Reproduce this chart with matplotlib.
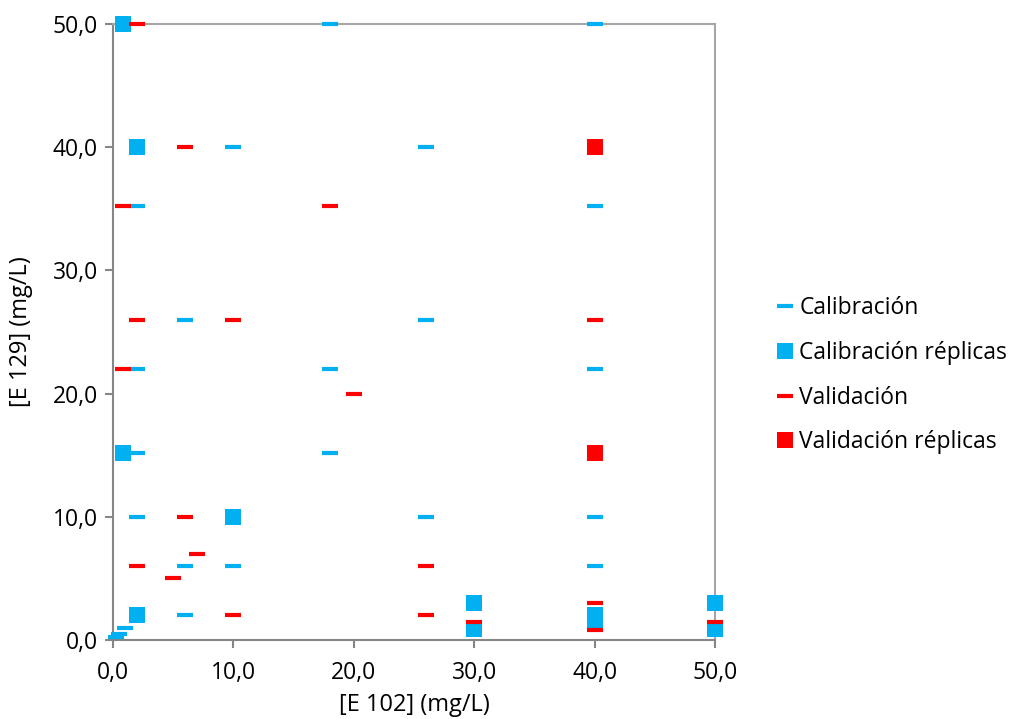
import matplotlib
matplotlib.use("Agg")
import matplotlib.pyplot as plt
from matplotlib.ticker import FuncFormatter

plt.rcParams['font.family'] = ['Open Sans', 'DejaVu Sans']

calib_x = [18, 40, 10, 26, 2, 40, 6, 26, 2, 18, 40, 2, 18, 2, 26, 40, 6, 10, 40, 6, 1, 0.5, 0.25]
calib_y = [50, 50, 40, 40, 35.2, 35.2, 26, 26, 22, 22, 22, 15.2, 15.2, 10, 10, 10, 6, 6, 6, 2, 1, 0.5, 0.25]

calib_rep_x = [0.8, 2, 0.8, 10, 2, 30, 30, 40, 40, 50, 50]
calib_rep_y = [50, 40, 15.2, 10, 2, 3, 0.9, 2, 1.5, 3, 0.9]

valid_x = [2, 6, 0.8, 18, 2, 10, 40, 0.8, 20, 6, 7, 2, 26, 5, 10, 26, 30, 40, 40, 50]
valid_y = [50, 40, 35.2, 35.2, 26, 26, 26, 22, 20, 10, 7, 6, 6, 5, 2, 2, 1.5, 3, 0.8, 1.5]

valid_rep_x = [40, 40]
valid_rep_y = [40, 15.2]

labels = ["Calibración", "Calibración réplicas", "Validación", "Validación réplicas"]
x_ticks = [0, 10, 20, 30, 40, 50]
y_ticks = [0, 10, 20, 30, 40, 50]

BLUE = "#00B0F0"
RED = "#FF0000"
GRAY = "#868686"

fig = plt.figure(figsize=(10.24, 7.19), dpi=100)
ax = fig.add_axes([113/1024, 1-640/719, (715-113)/1024, (640-24)/719])

ms_sq = 11.0
ms_dash = 11.3
mew_dash = 3.0

ax.plot(calib_x, calib_y, linestyle='none', marker='_', markersize=ms_dash,
        markeredgewidth=mew_dash, color=BLUE, label=labels[0], clip_on=False, zorder=3)
ax.plot(calib_rep_x, calib_rep_y, linestyle='none', marker='s', markersize=ms_sq,
        markeredgewidth=0, color=BLUE, label=labels[1], clip_on=False, zorder=4)
ax.plot(valid_x, valid_y, linestyle='none', marker='_', markersize=ms_dash,
        markeredgewidth=mew_dash, color=RED, label=labels[2], clip_on=False, zorder=5)
ax.plot(valid_rep_x, valid_rep_y, linestyle='none', marker='s', markersize=ms_sq,
        markeredgewidth=0, color=RED, label=labels[3], clip_on=False, zorder=6)

ax.set_xlim(0, 50)
ax.set_ylim(0, 50)
ax.set_xticks(x_ticks)
ax.set_yticks(y_ticks)
fmt = FuncFormatter(lambda v, p: f"{v:.1f}".replace('.', ','))
ax.xaxis.set_major_formatter(fmt)
ax.yaxis.set_major_formatter(fmt)

for s in ax.spines.values():
    s.set_color(GRAY)
    s.set_linewidth(1.5)
    s.set_zorder(2)
ax.spines['top'].set_color("#A6A6A6")
ax.spines['right'].set_color("#A6A6A6")

ax.tick_params(axis='both', colors=GRAY, labelcolor='black', labelsize=16.5,
               length=6, width=1.5, direction='out')
ax.tick_params(axis='x', pad=9)
ax.tick_params(axis='y', pad=5)

ax.set_xlabel("[E 102] (mg/L)", fontsize=17, labelpad=6)
ax.set_ylabel("[E 129] (mg/L)", fontsize=17, labelpad=14)

leg = fig.legend(loc='center left', bbox_to_anchor=(0.738, 0.478), frameon=False,
                 fontsize=16.5, handlelength=0.75, handletextpad=0.25, labelspacing=0.9,
                 markerscale=1.0)

fig.savefig("out.png", dpi=100)
